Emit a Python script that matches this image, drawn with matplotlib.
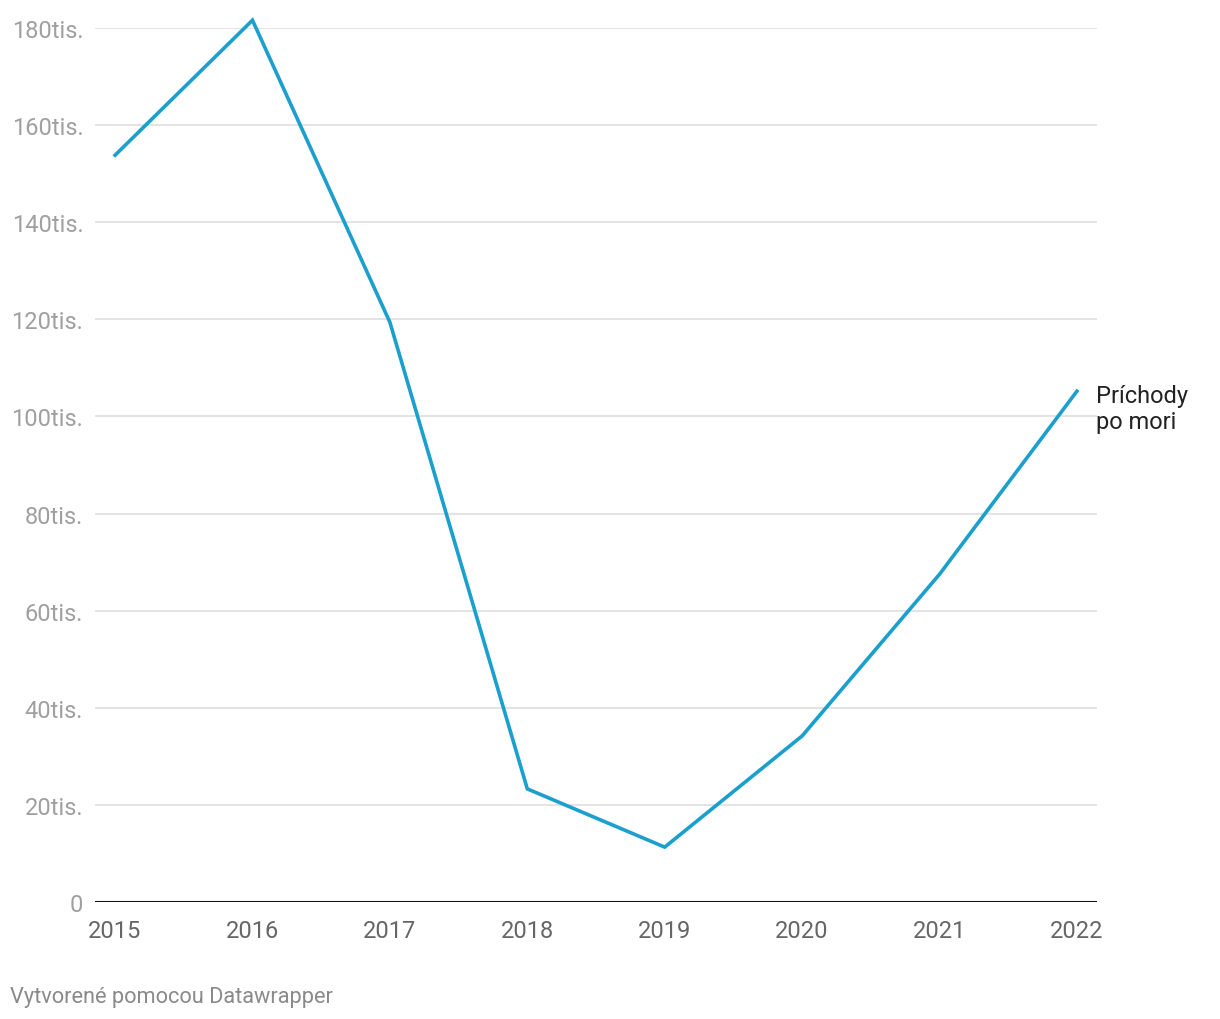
import matplotlib
matplotlib.use('Agg')
import matplotlib.pyplot as plt

# data
years = [2015, 2016, 2017, 2018, 2019, 2020, 2021, 2022]
arrivals = [153800, 181600, 119400, 23300, 11300, 34200, 67500, 105200]
y_ticks = [0, 20000, 40000, 60000, 80000, 100000, 120000, 140000, 160000, 180000]
y_labels = ["0"] + [f"{v // 1000}tis." for v in y_ticks[1:]]
series_label = "Príchody\npo mori"
footer = "Vytvorené pomocou Datawrapper"

plt.rcParams['font.family'] = ['Roboto', 'DejaVu Sans']

fig = plt.figure(figsize=(12.2, 10.2), dpi=100)
ax = fig.add_axes([95 / 1220, 1 - 903 / 1020, (1097 - 95) / 1220, (903 - 29) / 1020])

# gridlines
for v in y_ticks[1:]:
    ax.axhline(v, color="#e0e0e0", lw=1.3, zorder=1)
ax.axhline(0, color="#111111", lw=2.2, zorder=3)

ax.plot(years, arrivals, color="#1b9fcc", lw=2.6, clip_on=False, zorder=4,
        solid_joinstyle="miter")

ax.set_xlim(2014.854, 2022.146)
ax.set_ylim(0, 180000)

for s in ax.spines.values():
    s.set_visible(False)
ax.set_xticks(years)
ax.set_xticklabels([str(y) for y in years], fontsize=17, color="#666666")
ax.set_yticks(y_ticks)
ax.set_yticklabels(y_labels, fontsize=17, color="#a0a0a0")
ax.tick_params(axis="both", length=0)
ax.tick_params(axis="x", pad=12.5)
ax.tick_params(axis="y", pad=8.5)

# series label at the end of the line
ax.annotate(series_label, xy=(years[-1], arrivals[-1]), xytext=(14, 5),
            textcoords="offset points", fontsize=17, color="#222222",
            ha="left", va="top", linespacing=1.17,
            annotation_clip=False)

fig.text(10 / 1220, 1 - 998 / 1020, footer, fontsize=15.7, color="#8a8a8a",
         ha="left", va="center")

fig.savefig("out.png", dpi=100, facecolor="white")
